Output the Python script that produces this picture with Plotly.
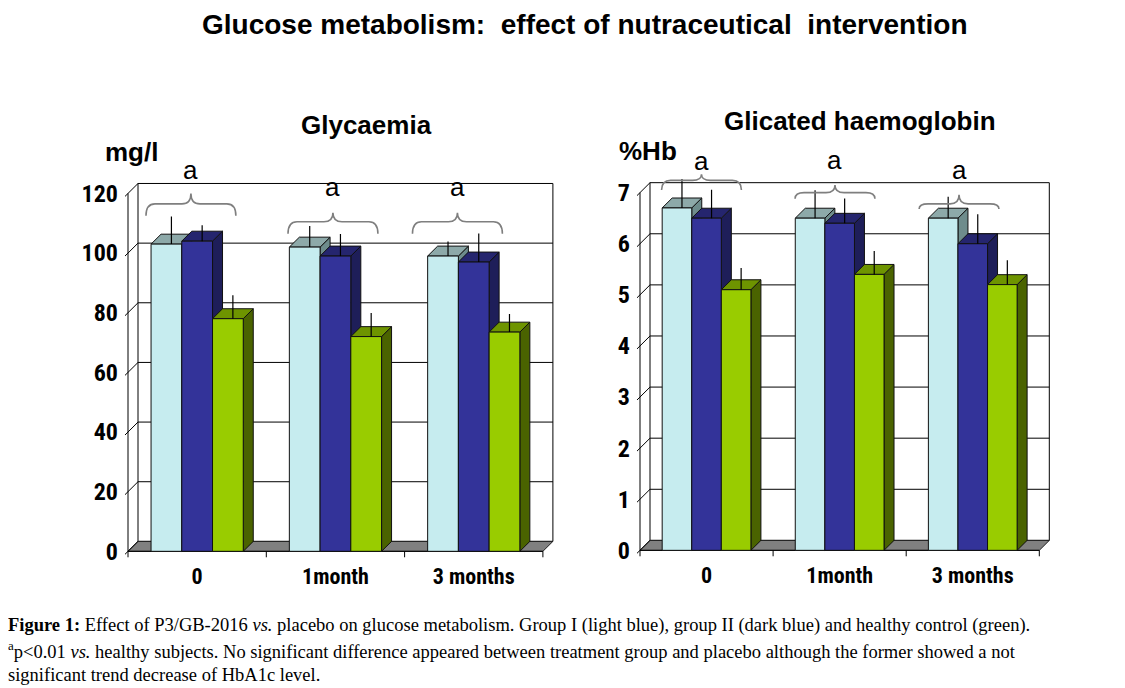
import plotly.graph_objects as go

# data
periods = ["0", "1month", "3 months"]
series_names = ["Group I", "Group II", "Healthy control"]

glyc_group1 = [103, 102, 99]
glyc_group2 = [104, 99, 97]
glyc_control = [78, 72, 73.5]
glyc_err_group1 = [7.6, 5.4, 3.2]
glyc_err_group2 = [3.7, 5.7, 7.9]
glyc_err_control = [6.2, 6.2, 4.4]
glyc_ticks = [0, 20, 40, 60, 80, 100, 120]

hb_group1 = [6.7, 6.5, 6.5]
hb_group2 = [6.5, 6.4, 6.0]
hb_control = [5.1, 5.4, 5.2]
hb_err_group1 = [0.47, 0.45, 0.32]
hb_err_group2 = [0.46, 0.39, 0.48]
hb_err_control = [0.33, 0.36, 0.38]
hb_ticks = [0, 1, 2, 3, 4, 5, 6, 7]

# face colours: front, top, side
front_cols = ["#C6ECEF", "#333399", "#99CC00"]
top_cols = ["#8DA9A9", "#25256E", "#6E9400"]
side_cols = ["#6E8C8C", "#1E1E59", "#4A6300"]

W, H = 1125, 688
DEPTH = 10      # px of the fake 3d depth
PAD = 4
TICKLEN = 6
BAR_W = 2 / 9   # bargap of one third, three bars per group

NARROW = "Roboto Condensed, Liberation Sans Narrow, Arial Narrow, Liberation Sans"
SANS = "Liberation Sans, Arial, sans-serif"
SERIF = "Liberation Serif, Times New Roman, serif"

fig = go.Figure()
shapes = []
annotations = []


def brace_path(xc, half, y_end, y_mid, y_tip, rx):
    xl, xr = xc - half, xc + half
    return (f"M {xl},{y_end} Q {xl},{y_mid} {xl + rx},{y_mid} L {xc - rx},{y_mid} "
            f"Q {xc},{y_mid} {xc},{y_tip} Q {xc},{y_mid} {xc + rx},{y_mid} "
            f"L {xr - rx},{y_mid} Q {xr},{y_mid} {xr},{y_end}")


def panel(n, values, errors, ticks, front_left, cat_px, zero_px, unit_px, ytop, braces):
    xa, ya = ("x", "y") if n == 1 else (f"x{n}", f"y{n}")
    xkey, ykey = ("xaxis", "yaxis") if n == 1 else (f"xaxis{n}", f"yaxis{n}")
    dx, dy = DEPTH / cat_px, DEPTH / unit_px
    tmax = ticks[-1]

    fig.layout[xkey] = dict(
        domain=[(front_left - PAD) / W, (front_left + 3 * cat_px + DEPTH + PAD) / W],
        range=[-0.5 - PAD / cat_px, 2.5 + dx + PAD / cat_px],
        anchor=ya, tickvals=[0, 1, 2], ticktext=periods, ticks="",
        showline=False, showgrid=False, zeroline=False, ticklabelstandoff=0,
        tickfont=dict(family=NARROW, size=22, color="black", weight="bold"))
    fig.layout[ykey] = dict(
        domain=[(H - zero_px - TICKLEN - PAD) / H, (H - zero_px + ytop * unit_px) / H],
        range=[-(TICKLEN + PAD) / unit_px, ytop],
        anchor=xa, tickvals=ticks, ticks="",
        showline=False, showgrid=False, zeroline=False, ticklabelstandoff=5,
        tickfont=dict(family=NARROW, size=24, color="black", weight="bold"))

    below = dict(xref=xa, yref=ya, layer="below")
    # back wall + grid
    shapes.append(dict(type="rect", x0=-0.5 + dx, x1=2.5 + dx, y0=dy, y1=tmax + dy,
                       line=dict(color="black", width=1), fillcolor="white", **below))
    for t in ticks[1:-1]:
        shapes.append(dict(type="line", x0=-0.5 + dx, x1=2.5 + dx, y0=t + dy, y1=t + dy,
                           line=dict(color="black", width=1), **below))
    # floor
    shapes.append(dict(type="path",
                       path=f"M -0.5,0 L 2.5,0 L {2.5 + dx},{dy} L {-0.5 + dx},{dy} Z",
                       fillcolor="#808080", line=dict(color="#202020", width=1), **below))
    # left wall: front axis and slanted ticks
    shapes.append(dict(type="line", x0=-0.5, x1=-0.5, y0=-TICKLEN / unit_px, y1=tmax,
                       line=dict(color="black", width=1), **below))
    for t in ticks:
        shapes.append(dict(type="line", x0=-0.5 - 0.3 * dx, x1=-0.5 + dx,
                           y0=t - 0.3 * dy, y1=t + dy,
                           line=dict(color="black", width=1), **below))
    # bottom axis + category ticks
    shapes.append(dict(type="line", x0=-0.5, x1=2.5, y0=0, y1=0,
                       line=dict(color="black", width=1), **below))
    for b in [0.5, 1.5, 2.5]:
        shapes.append(dict(type="line", x0=b, x1=b, y0=0, y1=-TICKLEN / unit_px,
                           line=dict(color="black", width=1), **below))

    # 3d columns, drawn left to right: side, top, front, error line
    for s, (vals, errs) in enumerate(zip(values, errors)):
        side_x, side_y, top_x, top_y, fr_x, fr_y, er_x, er_y = ([] for _ in range(8))
        for g, (v, e) in enumerate(zip(vals, errs)):
            xc = g + (s - 1) * BAR_W
            xl, xr = xc - BAR_W / 2, xc + BAR_W / 2
            side_x += [xr, xr, xr + dx, xr + dx, xr, None]
            side_y += [0, v, v + dy, dy, 0, None]
            top_x += [xl, xr, xr + dx, xl + dx, xl, None]
            top_y += [v, v, v + dy, v + dy, v, None]
            fr_x += [xl, xr, xr, xl, xl, None]
            fr_y += [0, 0, v, v, 0, None]
            er_x += [xc + dx / 2, xc + dx / 2, None]
            er_y += [v, v + dy / 2 + e, None]
        for px, py, col in [(side_x, side_y, side_cols[s]), (top_x, top_y, top_cols[s]),
                            (fr_x, fr_y, front_cols[s])]:
            fig.add_trace(go.Scatter(x=px, y=py, xaxis=xa, yaxis=ya, mode="lines",
                                     fill="toself", fillcolor=col,
                                     line=dict(color="#111111", width=1),
                                     name=series_names[s], showlegend=False,
                                     hoverinfo="skip"))
        fig.add_trace(go.Scatter(x=er_x, y=er_y, xaxis=xa, yaxis=ya, mode="lines",
                                 line=dict(color="black", width=1.2),
                                 showlegend=False, hoverinfo="skip"))

    # significance braces
    for xc, half, y_end, y_mid, y_tip, a_y in braces:
        shapes.append(dict(type="path", xref=xa, yref=ya,
                           path=brace_path(xc, half, y_end, y_mid, y_tip, 9 / cat_px),
                           line=dict(color="#7F7F7F", width=1.6)))
        annotations.append(dict(x=xc, y=a_y, xref=xa, yref=ya, text="a", showarrow=False,
                                font=dict(family=SANS, size=26, color="black")))


panel(1, [glyc_group1, glyc_group2, glyc_control],
      [glyc_err_group1, glyc_err_group2, glyc_err_control], glyc_ticks,
      front_left=120, cat_px=138.3, zero_px=546.5, unit_px=3.0, ytop=131,
      braces=[(-0.045, 0.325, 112.5, 116.5, 120.0, 128.0),
              (0.982, 0.325, 106.5, 110.5, 113.5, 122.3),
              (1.882, 0.325, 106.5, 110.5, 113.5, 122.3)])

panel(2, [hb_group1, hb_group2, hb_control],
      [hb_err_group1, hb_err_group2, hb_err_control], hb_ticks,
      front_left=632, cat_px=133.1, zero_px=545.5, unit_px=51.4, ytop=7.9,
      braces=[(-0.038, 0.30, 7.05, 7.24, 7.36, 7.62),
              (0.965, 0.30, 6.88, 7.00, 7.15, 7.64),
              (1.897, 0.30, 6.68, 6.78, 6.96, 7.45)])


def paper_text(text, x, y, size, family=SANS, bold=True, xanchor="center"):
    annotations.append(dict(text=text, x=x / W, y=1 - y / H, xref="paper", yref="paper",
                            xanchor=xanchor, yanchor="middle", showarrow=False,
                            font=dict(family=family, size=size, color="black",
                                      weight="bold" if bold else "normal")))


paper_text("Glucose metabolism:  effect of nutraceutical  intervention", 577, 17, 28)
paper_text("Glycaemia", 358, 118, 26)
paper_text("Glicated haemoglobin", 852, 114, 26)
paper_text("mg/l", 123, 145, 26)
paper_text("%Hb", 640, 144, 26)

caption = [
    "<b>Figure 1:</b> Effect of P3/GB-2016 <i>vs.</i> placebo on glucose metabolism. "
    "Group I (light blue), group II (dark blue) and healthy control (green).",
    "<sup>a</sup>p&lt;0.01 <i>vs.</i> healthy subjects. No significant difference appeared "
    "between treatment group and placebo although the former showed a not",
    "significant trend decrease of HbA1c level.",
]
for i, line in enumerate(caption):
    paper_text(line, -2, 621 + 25 * i, 18.5, family=SERIF, bold=False, xanchor="left")

fig.update_layout(width=W, height=H, margin=dict(l=0, r=0, t=0, b=0),
                  paper_bgcolor="white", plot_bgcolor="white",
                  shapes=shapes, annotations=annotations, showlegend=False)

fig.write_html("out.html")
